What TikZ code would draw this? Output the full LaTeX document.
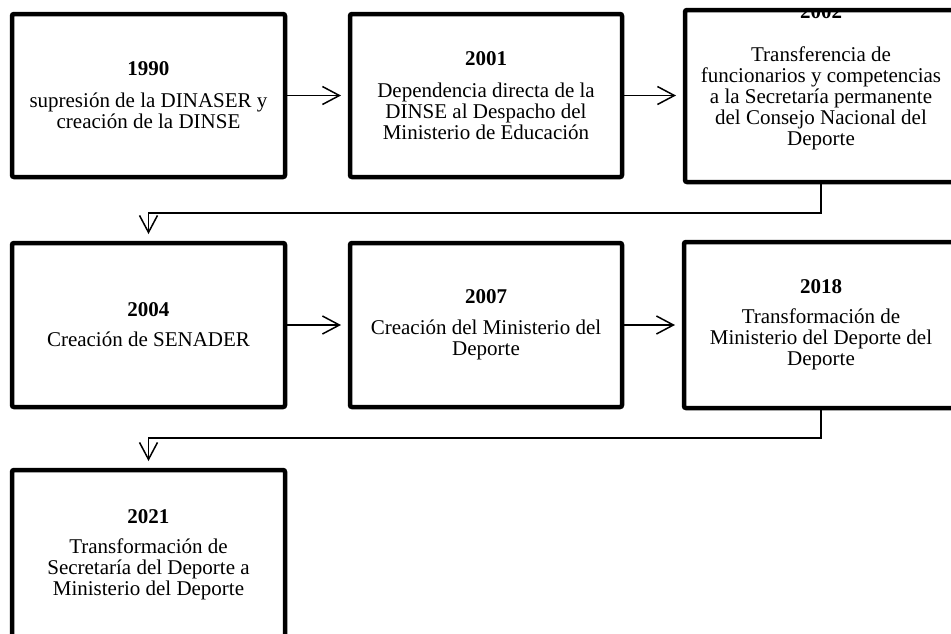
\documentclass[tikz,border=0pt]{standalone}
\usepackage{fontspec}
\setmainfont{Liberation Serif}
\usetikzlibrary{arrows.meta}
\begin{document}
\begin{tikzpicture}[x=1pt,y=-1pt,
  box/.style={draw, line width=4.5pt, rounded corners=2pt, inner sep=0pt, outer sep=0pt,
    align=center, minimum width=273pt, minimum height=164pt, font=\fontsize{21}{21}\selectfont},
  txt/.style={inner sep=0pt, outer sep=0pt, align=center, font=\fontsize{21}{21}\selectfont},
  arr/.style={line width=1.5pt, -{Straight Barb[length=17pt,width=18pt]}, shorten >=9pt},
  yr/.style={}]
\useasboundingbox (0,0) rectangle (951,633);
\clip (0,0) rectangle (951,633);

% row 1
\node[box, minimum width=273pt, minimum height=163pt] (b1) at (148.5,95.5)
  {{\bfseries 1990}\\[11pt]supresión de la DINASER y\\creación de la DINSE};
\node[box, minimum width=272pt, minimum height=163pt] (b2) at (486,95.5)
  {{\bfseries 2001}\\[11pt]Dependencia directa de la\\DINSE al Despacho del\\Ministerio de Educación};
\node[box, minimum width=272pt, minimum height=172pt] (b3) at (821,96) {};
\begin{scope}
  \clip ([xshift=2.25pt,yshift=-2.25pt]b3.north west) rectangle ([xshift=-2.25pt,yshift=2.25pt]b3.south east);
  \node[txt] (t3) at (821,77.2)
    {{\bfseries 2002}\\[22pt]Transferencia de\\funcionarios y competencias\\a la Secretaría permanente\\del Consejo Nacional del\\Deporte};
\end{scope}

% row 2
\node[box, minimum width=273pt, minimum height=164pt] (b4) at (148.5,325)
  {{\bfseries 2004}\\[9pt]Creación de SENADER};
\node[box, minimum width=272pt, minimum height=164pt] (b5) at (486,325)
  {{\bfseries 2007}\\[10pt]Creación del Ministerio del\\Deporte};
\node[box, minimum width=274pt, minimum height=166pt] (b6) at (821,325)
  {{\bfseries 2018}\\[9pt]Transformación de\\Ministerio del Deporte del\\Deporte};

% row 3
\node[box, minimum width=273pt, minimum height=170pt] (b7) at (148.5,555)
  {{\bfseries 2021}\\[9pt]Transformación de\\Secretaría del Deporte a\\Ministerio del Deporte};

% connectors
\draw[arr] (b1.east) -- (b1.east -| b2.west);
\draw[arr] (b2.east) -- (b2.east -| b3.west);
\draw[arr] (b3.south) -- ++(0,31) -| (b4.north);
\draw[arr] (b4.east) -- (b4.east -| b5.west);
\draw[arr] (b5.east) -- (b5.east -| b6.west);
\draw[arr] (b6.south) -- ++(0,30) -| (b7.north);
\end{tikzpicture}
\end{document}
